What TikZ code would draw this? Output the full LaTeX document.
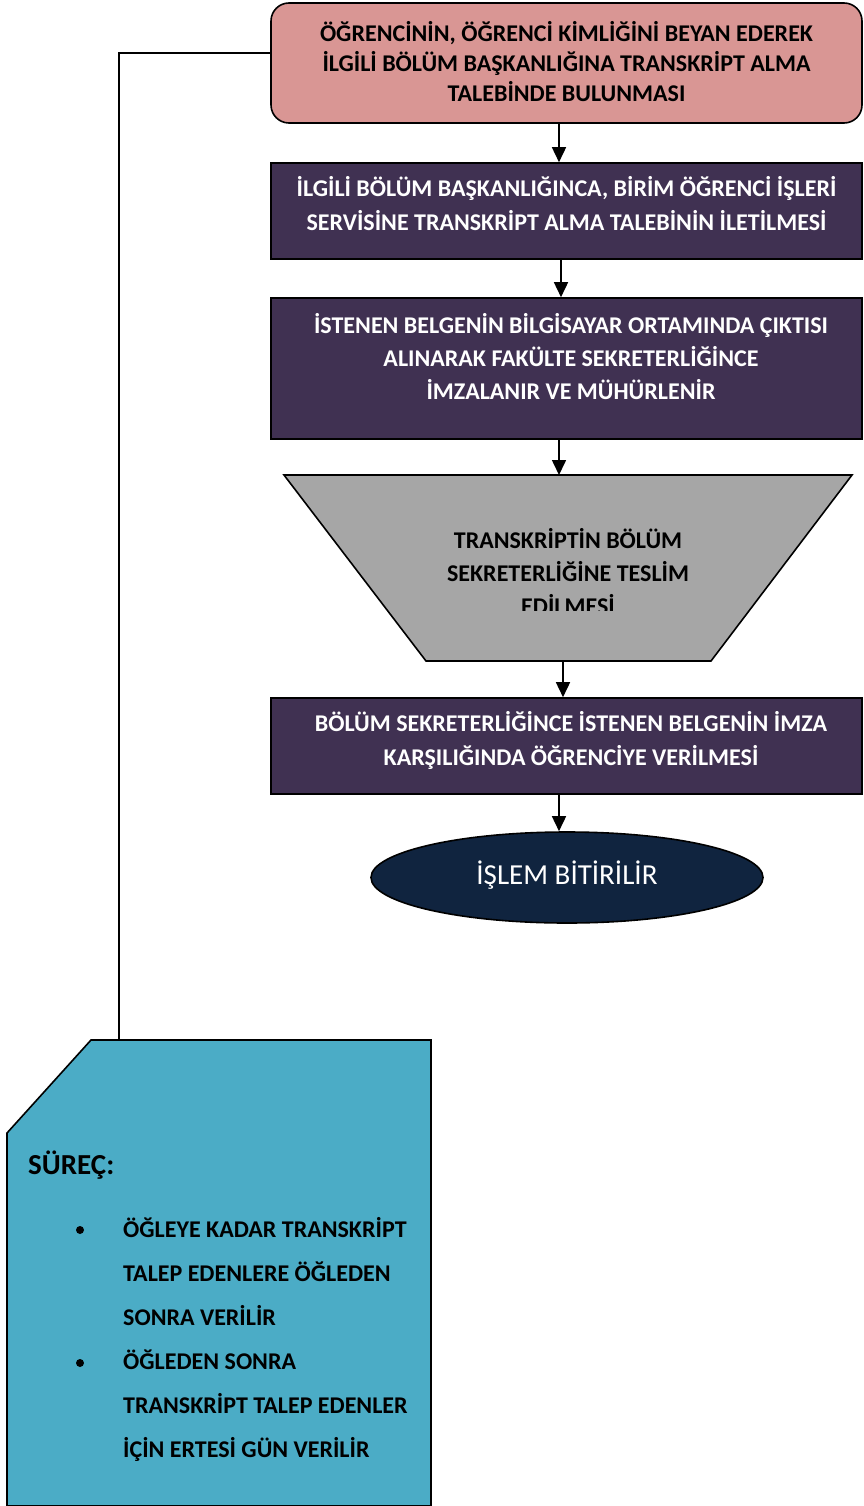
\documentclass[tikz,border=0pt]{standalone}
\usepackage{fontspec}
\setmainfont{Carlito}
\usetikzlibrary{arrows.meta,shapes.geometric}
\definecolor{pinkfill}{HTML}{D99694}
\definecolor{purplefill}{HTML}{403152}
\definecolor{grayfill}{HTML}{A6A6A6}
\definecolor{navyfill}{HTML}{10243F}
\definecolor{tealfill}{HTML}{4BACC6}
\tikzset{
  procbox/.style={draw=black, line width=1.6pt, minimum width=591pt, inner sep=0pt},
  purplebox/.style={procbox, fill=purplefill},
  whitetxt/.style={text=white, align=center, font=\bfseries\fontsize{24}{34}\selectfont},
  arr/.style={line width=1.6pt, -{Triangle[length=15pt,width=14pt]}},
  conn/.style={line width=1.6pt},
  notetxt/.style={anchor=base west, font=\bfseries\fontsize{24}{28}\selectfont, inner sep=0pt},
  bulletdot/.style={circle, fill=black, inner sep=0pt, minimum size=8pt}
}
\begin{document}
\begin{tikzpicture}[x=1pt,y=-1pt]
\useasboundingbox (0,0) rectangle (863,1506);
% box 1
\node[procbox, fill=pinkfill, rounded corners=18pt, minimum height=120pt] (b1) at (566.5,63) {};
\node[align=center, font=\bfseries\fontsize{24}{30}\selectfont] (t1) at (566.5,62) {ÖĞRENCİNİN, ÖĞRENCİ KİMLİĞİNİ BEYAN EDEREK\\İLGİLİ BÖLÜM BAŞKANLIĞINA TRANSKRİPT ALMA\\TALEBİNDE BULUNMASI};
% box 2
\node[purplebox, minimum height=96pt] (b2) at (566.5,211) {};
\node[whitetxt] (t2) at (566.5,204) {İLGİLİ BÖLÜM BAŞKANLIĞINCA, BİRİM ÖĞRENCİ İŞLERİ\\SERVİSİNE TRANSKRİPT ALMA TALEBİNİN İLETİLMESİ};
% box 3
\node[purplebox, minimum height=141pt] (b3) at (566.5,368.5) {};
\node[whitetxt, font=\bfseries\fontsize{24}{33}\selectfont] (t3) at (571,357) {İSTENEN BELGENİN BİLGİSAYAR ORTAMINDA ÇIKTISI\\ALINARAK FAKÜLTE SEKRETERLİĞİNCE\\İMZALANIR VE MÜHÜRLENİR};
% trapezoid
\coordinate (trTL) at (284,475);
\coordinate (trTR) at (852,475);
\coordinate (trBR) at (711,661);
\coordinate (trBL) at (426,661);
\coordinate (trTop) at (559,475);
\coordinate (trBot) at (563,661);
\draw[fill=grayfill, line width=1.6pt, line join=miter] (trTL) -- (trTR) -- (trBR) -- (trBL) -- cycle;
\begin{scope}
\clip (284,475) rectangle (852,610);
\node[align=center, font=\bfseries\fontsize{24}{33}\selectfont] (t4) at (568,572) {TRANSKRİPTİN BÖLÜM\\SEKRETERLİĞİNE TESLİM\\EDİLMESİ};
\end{scope}
% box 5
\node[purplebox, minimum height=96pt] (b5) at (566.5,746) {};
\node[whitetxt] (t5) at (571,740.5) {BÖLÜM SEKRETERLİĞİNCE İSTENEN BELGENİN İMZA\\KARŞILIĞINDA ÖĞRENCİYE VERİLMESİ};
% ellipse
\node[ellipse, draw=black, line width=1.6pt, fill=navyfill, minimum width=392pt, minimum height=91pt, inner sep=0pt] (end) at (567,877.5) {};
\node[text=white, font=\fontsize{29}{32}\selectfont] (endt) at (567,875.5) {İŞLEM BİTİRİLİR};
% arrows
\draw[arr] (b1.south -| trTop) -- (b2.north -| trTop);
\draw[arr] ([xshift=2pt]b2.south -| trTop) -- ([xshift=2pt]b3.north -| trTop);
\draw[arr] (b3.south -| trTop) -- (trTop);
\draw[arr] (trBot) -- (b5.north -| trBot);
\draw[arr] (b5.south -| trTop) -- (end.north -| trTop);
% note
\coordinate (nTL) at (91,1040);
\coordinate (nTR) at (431,1040);
\coordinate (nBR) at (431,1506);
\coordinate (nBL) at (7,1506);
\coordinate (nCL) at (7,1133);
\coordinate (nTop) at (119,1040);
\draw[fill=tealfill, line width=1.6pt, line join=miter] (nTL) -- (nTR) -- (nBR) -- (nBL) -- (nCL) -- cycle;
\draw[conn] ([yshift=10pt]b1.west) -| (nTop);
\node[notetxt, font=\bfseries\fontsize{29}{32}\selectfont] (s0) at (28,1174) {SÜREÇ:};
\node[bulletdot] (bu1) at (80,1230) {};
\node[notetxt] (s1) at (123,1237) {ÖĞLEYE KADAR TRANSKRİPT};
\node[notetxt] (s2) at (123,1281) {TALEP EDENLERE ÖĞLEDEN};
\node[notetxt] (s3) at (123,1325) {SONRA VERİLİR};
\node[bulletdot] (bu2) at (80,1363) {};
\node[notetxt] (s4) at (123,1369) {ÖĞLEDEN SONRA};
\node[notetxt] (s5) at (123,1413) {TRANSKRİPT TALEP EDENLER};
\node[notetxt] (s6) at (123,1457) {İÇİN ERTESİ GÜN VERİLİR};
\end{tikzpicture}
\end{document}
